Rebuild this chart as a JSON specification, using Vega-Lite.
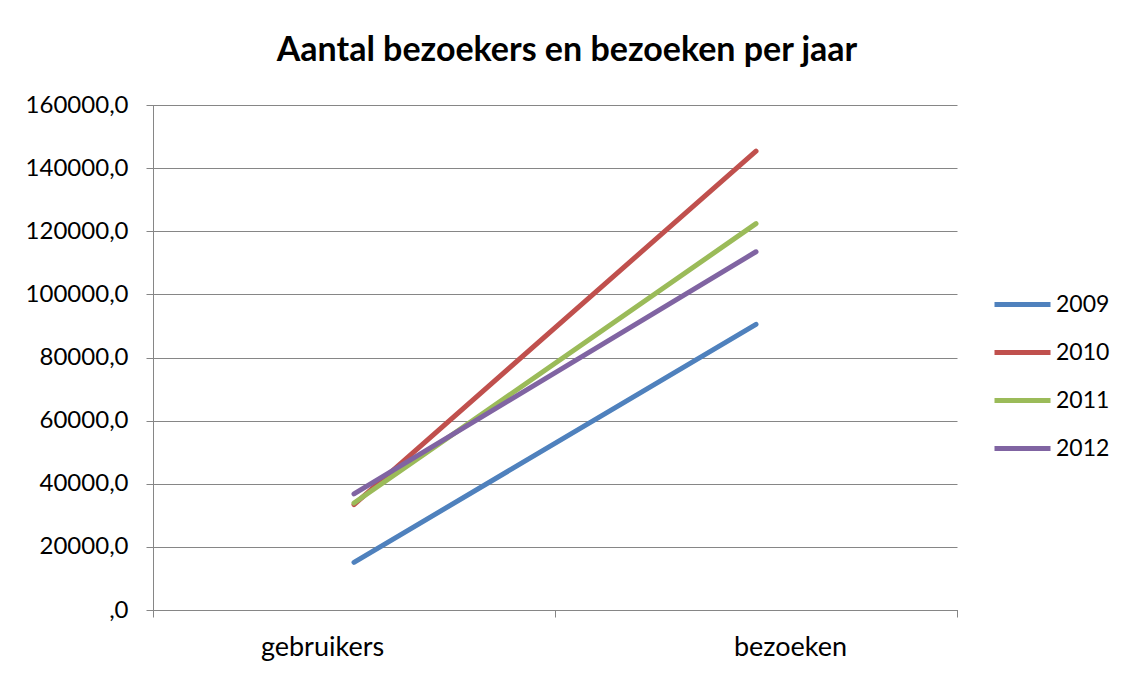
{
  "$schema": "https://vega.github.io/schema/vega-lite/v6.json",
  "width": 804,
  "height": 505,
  "autosize": {"type": "none"},
  "padding": {"left": 153, "top": 105, "right": 168, "bottom": 63},
  "background": "white",
  "title": {
    "text": "Aantal bezoekers en bezoeken per jaar",
    "font": "Lato",
    "fontWeight": "bold",
    "fontSize": 34,
    "color": "black",
    "anchor": "middle",
    "dx": 12,
    "offset": 25
  },
  "data": {
    "values": [
      {"categorie": "gebruikers", "jaar": "2009", "aantal": 15100},
      {"categorie": "bezoeken", "jaar": "2009", "aantal": 90500},
      {"categorie": "gebruikers", "jaar": "2010", "aantal": 33400},
      {"categorie": "bezoeken", "jaar": "2010", "aantal": 145400},
      {"categorie": "gebruikers", "jaar": "2011", "aantal": 33900},
      {"categorie": "bezoeken", "jaar": "2011", "aantal": 122400},
      {"categorie": "gebruikers", "jaar": "2012", "aantal": 36800},
      {"categorie": "bezoeken", "jaar": "2012", "aantal": 113500}
    ]
  },
  "mark": {"type": "line", "strokeWidth": 5, "strokeCap": "round"},
  "encoding": {
    "x": {
      "field": "categorie",
      "type": "nominal",
      "sort": null,
      "scale": {"type": "band", "paddingInner": 0, "paddingOuter": 0},
      "axis": {
        "title": null,
        "labelAngle": 0,
        "tickBand": "extent",
        "tickSize": 7,
        "tickColor": "#868686",
        "domainColor": "#868686",
        "domainWidth": 1,
        "labelFont": "Lato",
        "labelFontSize": 27,
        "labelColor": "black",
        "labelPadding": 17,
        "labelOffset": {"condition": {"test": "datum.value === 'gebruikers'", "value": -32}, "value": 34},
        "grid": false
      }
    },
    "y": {
      "field": "aantal",
      "type": "quantitative",
      "scale": {"domain": [0, 160000], "nice": false},
      "axis": {
        "title": null,
        "values": [0, 20000, 40000, 60000, 80000, 100000, 120000, 140000, 160000],
        "labelExpr": "datum.value == 0 ? ',0' : replace(format(datum.value, '.1f'), '.', ',')",
        "tickSize": 7,
        "tickColor": "#868686",
        "domainColor": "#868686",
        "gridColor": "#868686",
        "gridWidth": 1,
        "labelFont": "Lato",
        "labelFontSize": 24,
        "labelColor": "black",
        "labelPadding": 18
      }
    },
    "color": {
      "field": "jaar",
      "type": "nominal",
      "scale": {"domain": ["2009", "2010", "2011", "2012"], "range": ["#4F81BD", "#C0504D", "#9BBB59", "#8064A2"]},
      "legend": {
        "title": null,
        "orient": "none",
        "legendX": 839,
        "legendY": 169,
        "symbolType": "stroke",
        "symbolSize": 3136,
        "symbolStrokeWidth": 5,
        "labelFont": "Lato",
        "labelFontSize": 23,
        "labelColor": "black",
        "labelOffset": 3,
        "rowPadding": 5
      }
    }
  },
  "config": {
    "view": {"stroke": null},
    "axis": {"domainCap": "square"}
  }
}
